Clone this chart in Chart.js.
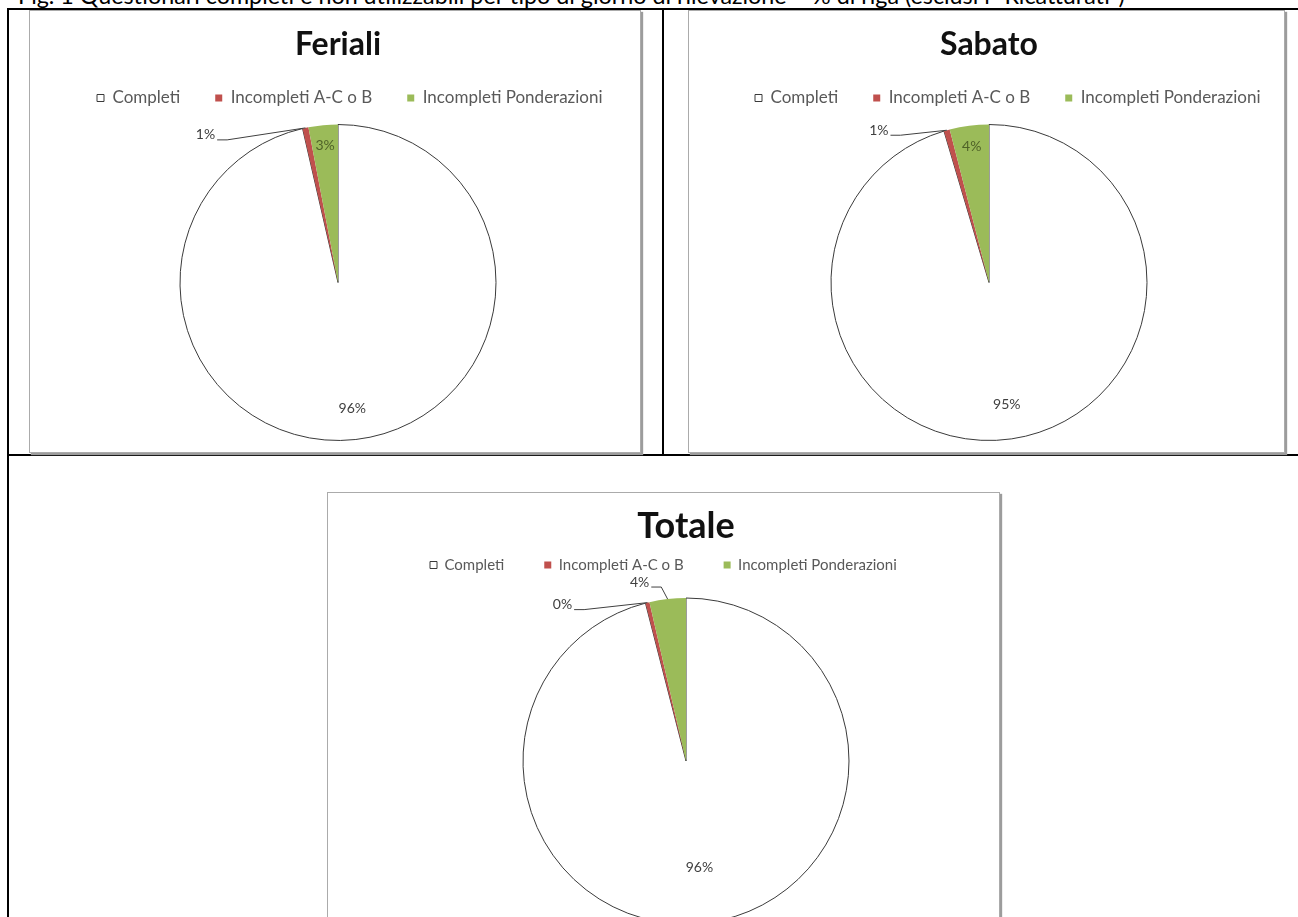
<!DOCTYPE html>
<html lang="it">
<head>
<meta charset="utf-8">
<title>Questionari completi e non utilizzabili</title>
<script src="https://cdn.jsdelivr.net/npm/chart.js@4.4.1/dist/chart.umd.min.js"></script>
<style>
    html, body {
        margin: 0;
        padding: 0;
        background: #ffffff;
        overflow: hidden;
        width: 1298px;
        height: 917px;
    }
    .caption {
        position: absolute;
        left: 18px;
        top: -16px;
        font: 23.3px/23px Lato, sans-serif;
        color: #000000;
        white-space: nowrap;
    }
    .rule {
        position: absolute;
        background: #000000;
    }
    .panel {
        position: absolute;
        background: #ffffff;
        border: 1px solid #ababab;
        box-shadow: 2px 2px 1px #9c9c9c;
        box-sizing: border-box;
    }
    canvas {
        position: absolute;
    }
</style>
</head>
<body>

<div class="caption">Fig. 1 Questionari completi e non utilizzabili per tipo di giorno di rilevazione – % di riga (esclusi i "Ricatturati")</div>

<div class="rule" style="left:7px; top:8px; width:1291px; height:2px;"></div>
<div class="rule" style="left:7px; top:8px; width:2px; height:909px;"></div>
<div class="rule" style="left:662px; top:8px; width:2px; height:448px;"></div>
<div class="rule" style="left:7px; top:454px; width:1291px; height:2px;"></div>

<div class="panel" style="left:29px; top:10px; width:612px; height:443px;"></div>
<div class="panel" style="left:688px; top:10px; width:597px; height:443px;"></div>
<div class="panel" style="left:327px; top:492px; width:673px; height:440px;"></div>

<canvas id="chart-feriali" width="638" height="443" style="left:62px; top:10px;"></canvas>
<canvas id="chart-sabato" width="610" height="443" style="left:720px; top:10px;"></canvas>
<canvas id="chart-totale" width="592" height="450" style="left:390px; top:492px;"></canvas>

<script>
    // quote di questionari per tipo di giorno (% di riga)
    const categories = ['Completi', 'Incompleti A-C o B', 'Incompleti Ponderazioni'];
    const ferialiValues = [96.4, 0.6, 3.0];
    const sabatoValues = [95.4, 0.6, 4.0];
    const totaleValues = [96.0, 0.4, 3.6];

    const sliceColors = ['#ffffff', '#c0504d', '#9bbb59'];
    const textColor = '#404040';

    // etichette percentuali sulle fette, con linea guida per quelle esterne
    const sliceLabels = {
        id: 'sliceLabels',
        afterDatasetsDraw(chart, args, opts) {
            const ctx = chart.ctx;
            const values = chart.data.datasets[0].data;
            const total = values.reduce((a, b) => a + b, 0);
            const arcs = chart.getDatasetMeta(0).data;

            ctx.save();
            ctx.font = opts.font;
            ctx.textAlign = 'center';
            ctx.textBaseline = 'middle';

            arcs.forEach((arc, i) => {
                const place = opts.placements[i];
                const text = Math.round(values[i] / total * 100) + '%';
                const mid = (arc.startAngle + arc.endAngle) / 2;
                const edgeX = arc.x + Math.cos(mid) * arc.outerRadius;
                const edgeY = arc.y + Math.sin(mid) * arc.outerRadius;

                if (place.inside !== undefined) {
                    const r = arc.outerRadius * place.inside;
                    ctx.fillStyle = place.color || textColor;
                    ctx.fillText(text, arc.x + Math.cos(mid) * r, arc.y + Math.sin(mid) * r);
                } else {
                    const tx = edgeX + place.dx;
                    const ty = edgeY + place.dy;
                    const w = ctx.measureText(text).width;
                    ctx.fillStyle = textColor;
                    ctx.fillText(text, tx, ty);

                    ctx.strokeStyle = textColor;
                    ctx.lineWidth = 1;
                    ctx.beginPath();
                    ctx.moveTo(tx + w / 2 + 2, ty + 5);
                    ctx.lineTo(tx + w / 2 + 12, ty + 5);
                    ctx.lineTo(edgeX, edgeY);
                    ctx.stroke();
                }
            });
            ctx.restore();
        }
    };

    function makePie(canvasId, title, values, setup) {
        return new Chart(document.getElementById(canvasId), {
            type: 'pie',
            data: {
                labels: categories,
                datasets: [{
                    data: values,
                    backgroundColor: sliceColors,
                    borderColor: ['#3a3a3a', '#3a3a3a', '#3a3a3a'],
                    borderWidth: [1, 0, 0]
                }]
            },
            options: {
                responsive: false,
                animation: false,
                radius: setup.radius,
                layout: {
                    padding: {bottom: setup.padBottom}
                },
                plugins: {
                    title: {
                        display: true,
                        fullSize: false,
                        text: title,
                        color: '#111111',
                        font: {family: 'Lato', weight: 'bold', size: setup.titleSize, lineHeight: 1},
                        padding: {top: setup.titleTop, bottom: setup.titleBottom}
                    },
                    // spazio vuoto a destra: sposta torta e titolo senza spostare la legenda
                    subtitle: {
                        display: setup.rightSpace > 0,
                        position: 'right',
                        text: ' ',
                        font: {size: 1, lineHeight: 1},
                        padding: {top: Math.max(setup.rightSpace - 1, 0), bottom: 0}
                    },
                    legend: {
                        position: 'top',
                        align: 'start',
                        labels: {
                            color: '#595959',
                            boxWidth: 7,
                            boxHeight: 7,
                            padding: setup.legendGap,
                            font: {family: 'Lato', size: setup.legendSize}
                        }
                    },
                    tooltip: {enabled: false},
                    sliceLabels: {
                        font: '14px Lato',
                        placements: setup.placements
                    }
                }
            },
            plugins: [sliceLabels]
        });
    }

    makePie('chart-feriali', 'Feriali', ferialiValues, {
        radius: 158,
        padBottom: 4.5,
        titleSize: 32,
        titleTop: 19,
        titleBottom: -6.5,
        rightSpace: 86,
        legendGap: 35,
        legendSize: 17,
        placements: [
            {inside: 0.8},
            {dx: -100, dy: 7},
            {inside: 0.87, color: '#4f6228'}
        ]
    });

    makePie('chart-sabato', 'Sabato', sabatoValues, {
        radius: 158,
        padBottom: 4.5,
        titleSize: 32,
        titleTop: 19,
        titleBottom: -6.5,
        rightSpace: 72,
        legendGap: 35,
        legendSize: 17,
        placements: [
            {inside: 0.78},
            {dx: -68, dy: 0},
            {inside: 0.87, color: '#4f6228'}
        ]
    });

    makePie('chart-totale', 'Totale', totaleValues, {
        radius: 163,
        padBottom: 2.5,
        titleSize: 36,
        titleTop: 16,
        titleBottom: -26.5,
        rightSpace: 0,
        legendGap: 40,
        legendSize: 15,
        placements: [
            {inside: 0.66},
            {dx: -85, dy: 2},
            {dx: -28, dy: -17}
        ]
    });
</script>
</body>
</html>
